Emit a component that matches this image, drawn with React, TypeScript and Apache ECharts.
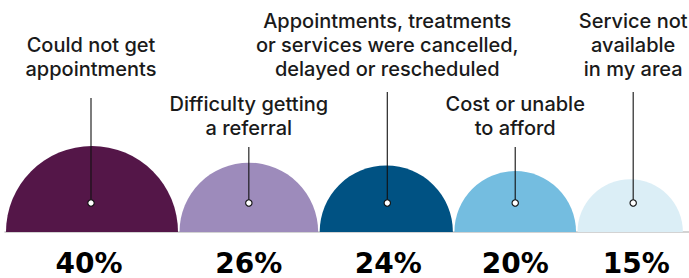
import React, { useEffect, useRef } from "react";
import * as echarts from "echarts";

// ---- data ----
const CATEGORIES: string[] = [
  "Could not get\nappointments",
  "Difficulty getting\na referral",
  "Appointments, treatments\nor services were cancelled,\ndelayed or rescheduled",
  "Cost or unable\nto afford",
  "Service not\navailable\nin my area",
];
const VALUES: number[] = [40, 26, 24, 20, 15];
const VALUE_LABELS: string[] = ["40%", "26%", "24%", "20%", "15%"];

// ---- styles / layout ----
const COLORS = ["#541648", "#9d8bbb", "#005283", "#74bde0", "#dbeef6"];
const R_MAX = 86; // radius of the largest half-disc, in axis units (1 unit = 1px)
const GAP = 1.5;
const START_X = 1;
const LABEL_BOTTOM = [81, 140, 81, 140, 81];
const LEADER_TOP = [98, 147, 92, 147, 92];
const ANNOT_DX = [-1, 0, 1, 0, 3];
const PCT_DX = [-3, 0, 2, 0, 6];
const DOT_OFFSET = 29;

const maxV = Math.max(...VALUES);
const radii = VALUES.map((v) => R_MAX * Math.sqrt(v / maxV));
const centers: number[] = [];
{
  let x = START_X;
  radii.forEach((r) => {
    centers.push(x + r);
    x += 2 * r + GAP;
  });
}

export default function App() {
  const ref = useRef<HTMLDivElement>(null);
  useEffect(() => {
    document.body.style.margin = "0";
    if (!ref.current) return;
    const chart = echarts.init(ref.current, null, { renderer: "svg" });
    const textFont = "Inter, 'Noto Sans', sans-serif";
    chart.setOption({
      animation: false,
      grid: { left: 5, right: 0, top: 0, bottom: 46 },
      xAxis: {
        type: "value",
        min: 0,
        max: 684,
        axisLine: { show: true, onZero: false, lineStyle: { color: "#c4c4c4", width: 1.5 } },
        axisTick: { show: false },
        axisLabel: { show: false },
        splitLine: { show: false },
      },
      yAxis: {
        type: "value",
        min: 0,
        max: 232,
        show: false,
        splitLine: { show: false },
      },
      series: [
        {
          type: "custom",
          coordinateSystem: "cartesian2d",
          data: VALUES.map((v, i) => [centers[i], v, i]),
          renderItem: (params: any, api: any) => {
            const i = api.value(2);
            const cxv = api.value(0);
            const v = api.value(1);
            const r = R_MAX * Math.sqrt(v / maxV);
            const rPx = api.size([r, r])[0];
            const pt = api.coord([cxv, 0]);
            const cx = pt[0];
            const cy = pt[1];
            const ax = cx + ANNOT_DX[i];
            const dotY = cy - DOT_OFFSET;
            return {
              type: "group",
              children: [
                {
                  type: "sector",
                  shape: { cx, cy, r0: 0, r: rPx, startAngle: Math.PI, endAngle: Math.PI * 2, clockwise: true },
                  style: { fill: COLORS[i] },
                },
                {
                  type: "line",
                  shape: { x1: ax, y1: LEADER_TOP[i], x2: ax, y2: dotY },
                  style: { stroke: "#111", lineWidth: 1.1 },
                },
                {
                  type: "circle",
                  shape: { cx: ax, cy: dotY, r: 3.2 },
                  style: { fill: "#fff", stroke: "#111", lineWidth: 1.1 },
                },
                {
                  type: "text",
                  style: {
                    text: CATEGORIES[i],
                    x: ax,
                    y: LABEL_BOTTOM[i],
                    align: "center",
                    verticalAlign: "bottom",
                    fontFamily: textFont,
                    fontSize: 20,
                    fontWeight: 500,
                    lineHeight: 24,
                    fill: "#1a1a1a",
                  },
                },
                {
                  type: "text",
                  style: {
                    text: VALUE_LABELS[i],
                    x: cx + PCT_DX[i],
                    y: 263,
                    align: "center",
                    verticalAlign: "middle",
                    fontFamily: "'DejaVu Sans', sans-serif",
                    fontSize: 28,
                    fontWeight: "bold",
                    fill: "#000",
                  },
                },
              ],
            };
          },
        },
      ],
    });
    return () => chart.dispose();
  }, []);
  return <div ref={ref} style={{ width: 689, height: 278 }} />;
}
